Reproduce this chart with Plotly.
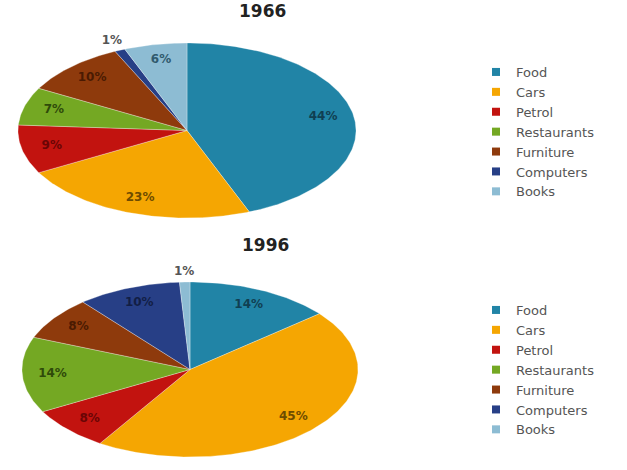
import numpy as np
import plotly.graph_objects as go

categories = ["Food", "Cars", "Petrol", "Restaurants", "Furniture", "Computers", "Books"]
values_1966 = [44, 23, 9, 7, 10, 1, 6]
values_1996 = [14, 45, 8, 14, 8, 10, 1]
titles = ["1966", "1996"]

colors = ["#2184A6", "#F5A602", "#C2130F", "#74A823", "#8E3A0C", "#273F86", "#8DBCD3"]
label_colors = ["#103F52", "#6E4C00", "#6A0505", "#2F4A0A", "#4A1A02", "#121E45", "#305A6E"]

fig = go.Figure()

YTOP = 1.28  # room above the pie for the small outside labels


def add_pie(values, xa, ya, legend):
    total = float(sum(values))
    start = 0.0
    lx, ly, lt, lc = [], [], [], []
    for cat, v, col, lcol in zip(categories, values, colors, label_colors):
        frac = v / total
        n = max(3, int(frac * 360))
        th = np.linspace(start, start + frac, n) * 2 * np.pi
        xs = np.concatenate([[0], np.sin(th), [0]])
        ys = np.concatenate([[0], np.cos(th), [0]])
        fig.add_trace(go.Scatter(
            x=xs, y=ys, mode="lines", fill="toself", fillcolor=col,
            line=dict(color="rgba(255,255,255,0.5)", width=0.6),
            xaxis=xa, yaxis=ya, showlegend=False, name=cat,
            hoverinfo="name"))
        mid = (start + frac / 2) * 2 * np.pi
        if v <= 1:
            r = 1.12
            lcol = "#555555"
        else:
            r = 0.82
        lx.append(r * np.sin(mid))
        ly.append(r * np.cos(mid))
        lt.append(f"{v}%")
        lc.append(lcol)
        start += frac
    fig.add_trace(go.Scatter(
        x=lx, y=ly, mode="text", text=lt,
        textfont=dict(family="DejaVu Sans", size=12, color=lc, weight="bold"),
        xaxis=xa, yaxis=ya, showlegend=False, cliponaxis=False,
        hoverinfo="skip"))
    for cat, col in zip(categories, colors):
        fig.add_trace(go.Scatter(
            x=[None], y=[None], mode="markers", name=cat,
            marker=dict(symbol="square", size=8, color=col),
            xaxis=xa, yaxis=ya, legend=legend, showlegend=True))


add_pie(values_1966, "x", "y", "legend")
add_pie(values_1996, "x2", "y2", "legend2")

W, H = 627, 470
xax = dict(range=[-1, 1], visible=False, fixedrange=True)
yax = dict(range=[-1, YTOP], visible=False, fixedrange=True)
legend_style = dict(font=dict(family="DejaVu Sans", size=13, color="#555555"),
                    bgcolor="rgba(0,0,0,0)", xanchor="left", yanchor="top",
                    tracegroupgap=0, itemwidth=30)


def ydom(top, bottom):
    half = (bottom - top) / 2.0
    top_ext = top - half * (YTOP - 1)
    return [(H - bottom) / H, (H - top_ext) / H]


fig.update_layout(
    width=W, height=H, margin=dict(l=0, r=0, t=0, b=0),
    paper_bgcolor="white", plot_bgcolor="white",
    xaxis=dict(domain=[18 / W, 356 / W], **xax),
    yaxis=dict(domain=ydom(43, 218), **yax),
    xaxis2=dict(domain=[22 / W, 358 / W], **xax),
    yaxis2=dict(domain=ydom(282, 457), **yax),
    legend=dict(x=476 / W, y=(H - 57) / H, **legend_style),
    legend2=dict(x=476 / W, y=(H - 295) / H, **legend_style),
    annotations=[
        dict(text=titles[0], x=262 / W, y=(H - 11) / H, xref="paper", yref="paper",
             showarrow=False, yanchor="middle",
             font=dict(family="DejaVu Sans", size=17, color="#222222", weight="bold")),
        dict(text=titles[1], x=265 / W, y=(H - 245) / H, xref="paper", yref="paper",
             showarrow=False, yanchor="middle",
             font=dict(family="DejaVu Sans", size=17, color="#222222", weight="bold")),
    ],
)

fig.write_html("out.html", config={"displayModeBar": False},
               post_script="document.body.style.margin='0px';")
